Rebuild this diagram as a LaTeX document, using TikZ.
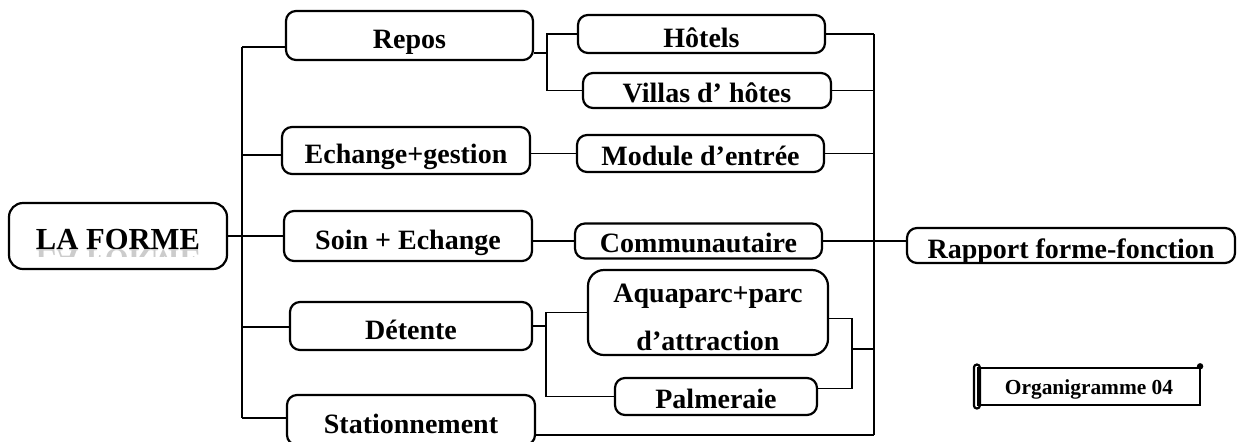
\documentclass[tikz,border=0pt]{standalone}
\usepackage{fontspec}
\setmainfont{Liberation Serif}
\begin{document}
\begin{tikzpicture}[x=0.5pt,y=-0.5pt,
  frame/.style={draw,line width=1.1pt,rounded corners=5pt,inner sep=0pt,align=center,
    font=\bfseries\fontsize{14}{16}\selectfont},
  box/.style={frame,text height=13.2pt,text depth=0pt},
  slim/.style={frame,text height=11.5pt,text depth=0pt},
  wh/.style 2 args={minimum width=#1*0.5pt,minimum height=#2*0.5pt},
  link/.style={line width=0.9pt}]
  \useasboundingbox (0,0) rectangle (1238,441);
  \clip (0,0) rectangle (1238,441);
  % boxes
  \node[box,wh={218}{66},rounded corners=7pt,font=\bfseries\fontsize{15.3}{17}\selectfont] (forme) at (118,236) {LA FORME};
  \begin{scope}
    \clip (forme.west |- forme.base) rectangle ([yshift=-3.5pt]forme.east |- forme.base);
    \node[anchor=base,inner sep=0pt,yscale=-1,transform shape,text=black!20,
      font=\bfseries\fontsize{15.3}{17}\selectfont] (glow) at (forme.base) {LA FORME};
  \end{scope}
  \node[box,wh={247}{49}] (repos) at (409.5,35.5) {Repos};
  \node[box,wh={248}{47}] (echange) at (406,150.5) {Echange+gestion};
  \node[box,wh={248}{50}] (soin) at (408,236) {Soin + Echange};
  \node[box,wh={242}{48}] (detente) at (411,326) {Détente};
  \node[box,wh={248}{50}] (station) at (411,420) {Stationnement};
  \node[box,wh={247}{38}] (hotels) at (701.5,34) {Hôtels};
  \node[slim,wh={248}{35}] (villas) at (707,90.5) {Villas d’ hôtes};
  \node[slim,wh={247}{37}] (module) at (700.5,153.5) {Module d’entrée};
  \node[slim,wh={247}{35}] (commu) at (698.5,241) {Communautaire};
  \node[frame,wh={240}{85},rounded corners=8pt,text height=37.5pt,text depth=0pt,
    font=\bfseries\fontsize{14}{24}\selectfont] (aqua) at (708,312.5) {Aquaparc+parc\\d’attraction};
  \node[slim,wh={202}{37}] (palm) at (716,396.5) {Palmeraie};
  \node[slim,wh={328}{35},text height=12.5pt] (rapport) at (1071,245.5) {Rapport forme-fonction};
  \node[box,wh={222}{37},rounded corners=0pt,text height=8pt,font=\bfseries\fontsize{10.7}{13}\selectfont] (orga) at (1089,386.5) {Organigramme 04};
  \draw[line width=1.1pt,rounded corners=1.5pt] ([xshift=-1.5pt,yshift=1.2pt]orga.north west) rectangle ([xshift=1.5pt,yshift=-1.2pt]orga.south west);
  \fill ([xshift=-0.5pt,yshift=0.3pt]orga.north east) circle (1.6pt);
  % left trunk
  \coordinate (l1) at (242,47);
  \coordinate (l2) at (242,155);
  \coordinate (l4) at (242,327);
  \coordinate (l5) at (242,418);
  \draw[link] (l1) -- (l5);
  \foreach \c/\n in {l1/repos,l2/echange,l4/detente,l5/station}
    \draw[link] (\c) -- (\c -| \n.west);
  \draw[link] (forme.east) -- (soin.west);
  % middle links
  \coordinate (rs) at (547,53);
  \draw[link] (rs -| repos.east) -- (rs);
  \draw[link] (hotels.west) -| (rs);
  \draw[link] (villas.west) -| (rs);
  \draw[link] (echange.east |- module.west) -- (module.west);
  \draw[link] (soin.east |- commu.west) -- (commu.west);
  \coordinate (ds) at (546,326);
  \draw[link] (detente.east) -- (ds);
  \draw[link] (aqua.west) -| (ds);
  \draw[link] (palm.west) -| (ds);
  % right trunk
  \coordinate (R1) at (874,34);
  \coordinate (R2) at (874,435);
  \draw[link] (R1) -- (R2);
  \foreach \n in {hotels,villas,module}
    \draw[link] (\n.east) -- (\n.east -| R1);
  \draw[link] (commu.east) -- (commu.east -| rapport.west);
  \coordinate (as) at (852,349);
  \draw[link] ([yshift=-3pt]aqua.east) -| (as);
  \draw[link] ([yshift=4pt]palm.east) -| (as);
  \draw[link] (as) -- (as -| R1);
  \draw[link] (station.east |- R2) -- (R2);
\end{tikzpicture}
\end{document}
